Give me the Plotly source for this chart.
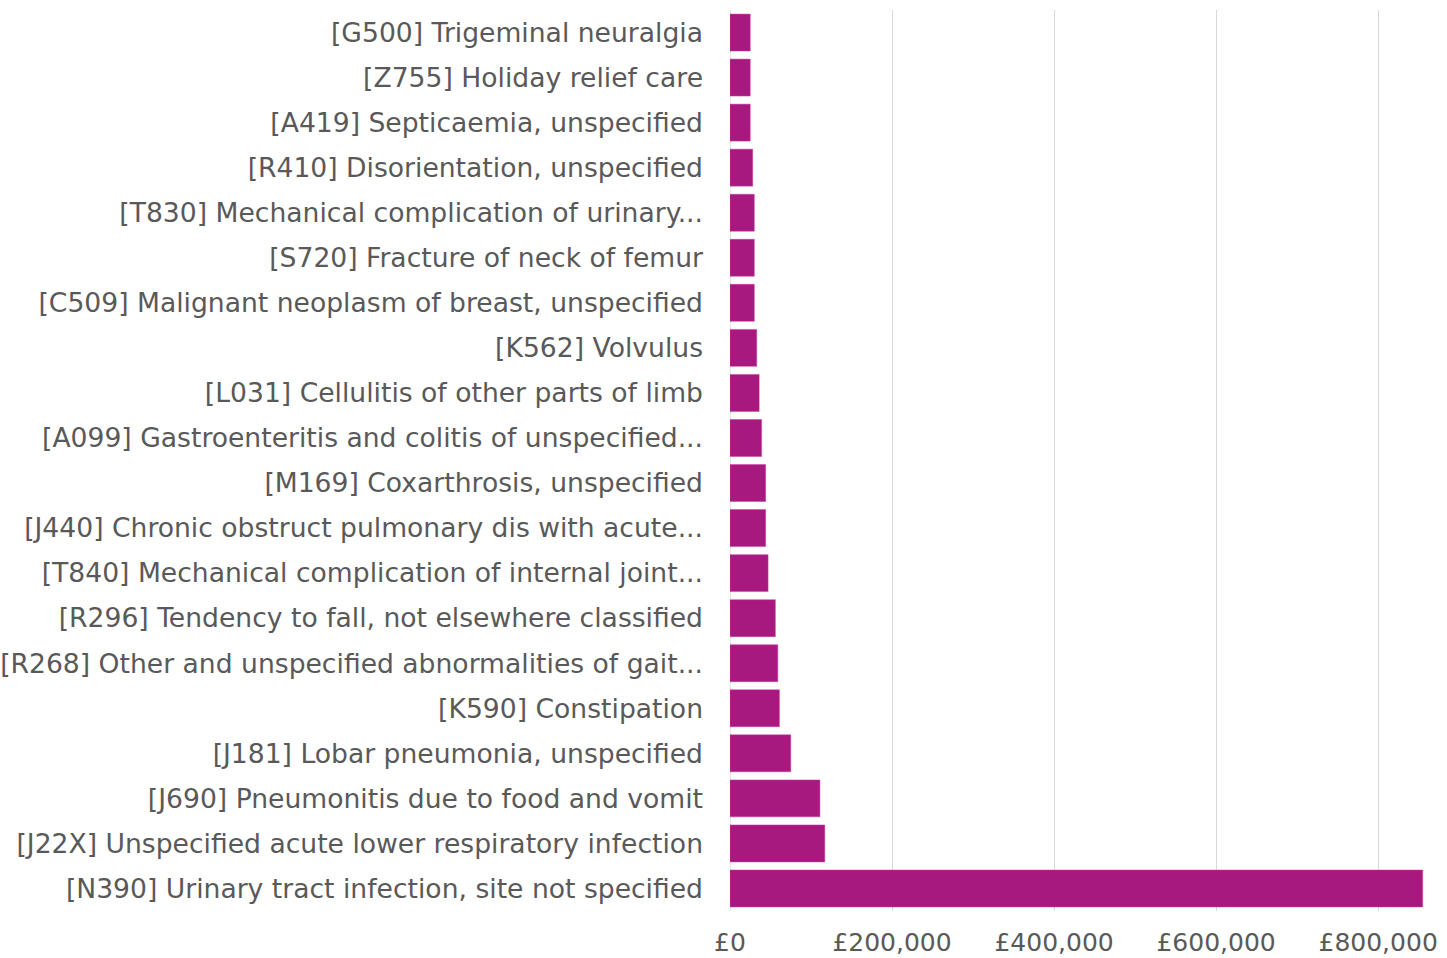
import plotly.graph_objects as go

categories = [
    "[G500] Trigeminal neuralgia",
    "[Z755] Holiday relief care",
    "[A419] Septicaemia, unspecified",
    "[R410] Disorientation, unspecified",
    "[T830] Mechanical complication of urinary...",
    "[S720] Fracture of neck of femur",
    "[C509] Malignant neoplasm of breast, unspecified",
    "[K562] Volvulus",
    "[L031] Cellulitis of other parts of limb",
    "[A099] Gastroenteritis and colitis of unspecified...",
    "[M169] Coxarthrosis, unspecified",
    "[J440] Chronic obstruct pulmonary dis with acute...",
    "[T840] Mechanical complication of internal joint...",
    "[R296] Tendency to fall, not elsewhere classified",
    "[R268] Other and unspecified abnormalities of gait...",
    "[K590] Constipation",
    "[J181] Lobar pneumonia, unspecified",
    "[J690] Pneumonitis due to food and vomit",
    "[J22X] Unspecified acute lower respiratory infection",
    "[N390] Urinary tract infection, site not specified",
]
costs = [25000, 25000, 25000, 28000, 30000, 30000, 30000, 33000, 36000, 39000,
         44000, 44000, 47000, 56000, 59000, 61000, 75000, 111000, 117000, 855000]

tick_vals = [0, 200000, 400000, 600000, 800000]
tick_text = ["£0", "£200,000", "£400,000", "£600,000", "£800,000"]

FONT = "DejaVu Sans, Arial, sans-serif"

fig = go.Figure(go.Bar(
    y=categories, x=costs, orientation="h",
    marker=dict(color="#A8197F", line=dict(color="#C83FA0", width=0.5)),
))

fig.update_layout(
    width=1447, height=958,
    margin=dict(l=730, r=0, t=10, b=47),
    paper_bgcolor="white", plot_bgcolor="white",
    bargap=0.18,
    showlegend=False,
    font=dict(family=FONT, size=26, color="#595959"),
)
fig.update_xaxes(
    range=[0, 885000], tickvals=tick_vals, ticktext=tick_text,
    showgrid=True, gridcolor="#D9D9D9", gridwidth=1,
    zeroline=True, zerolinecolor="#E6E6E6", zerolinewidth=1,
    showline=False, ticks="", tickfont=dict(family=FONT, size=25, color="#595959"),
    ticklabelstandoff=14,
)
fig.update_yaxes(
    autorange="reversed", showgrid=False, showline=False, ticks="",
    tickfont=dict(family=FONT, size=26.6, color="#595959"), ticklabelstandoff=26,
    automargin=False,
)
fig.write_html("out.html")
